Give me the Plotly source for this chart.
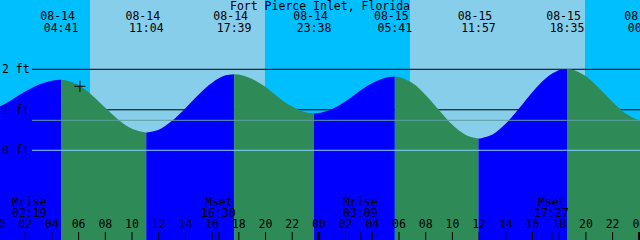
import plotly.graph_objects as go

station = "Fort Pierce Inlet, Florida"

# hours counted from 08-14 00:00 local time
extreme_times = [-2.0, 4.683, 11.067, 17.65, 23.633, 29.683, 35.95, 42.583, 48.43]
extreme_heights = [0.90, 1.74, 0.44, 1.88, 0.91, 1.82, 0.29, 2.01, 0.72]
label_dates = ["", "08-14", "08-14", "08-14", "08-14", "08-15", "08-15", "08-15", "08-16"]
label_clock = ["", "04:41", "11:04", "17:39", "23:38", "05:41", "11:57", "18:35", "00:26"]

sample_hours = list(range(0, 49))
sample_heights = [1.07, 1.25, 1.45, 1.62, 1.72,
                  1.73, 1.61, 1.36, 1.05, 0.75, 0.53, 0.44,
                  0.51, 0.73, 1.04, 1.38, 1.67, 1.85,
                  1.87, 1.76, 1.56, 1.30, 1.08, 0.94,
                  0.92, 1.02, 1.21, 1.45, 1.66, 1.79,
                  1.81, 1.66, 1.36, 0.99, 0.63, 0.38,
                  0.29, 0.39, 0.66, 1.04, 1.44, 1.78, 1.98,
                  1.99, 1.83, 1.53, 1.19, 0.90, 0.74]

sunrise_times = [6.85, 30.82]
sunset_times = [19.96, 43.93]

moon_times = [2.317, 16.5, 27.15, 41.45]
moon_names = ["Mrise", "Mset", "Mrise", "Mset"]
moon_clock = ["02:19", "16:30", "03:09", "17:27"]

hour_ticks = list(range(0, 49, 2))
hour_labels = ["%02d" % (h % 24) for h in hour_ticks]

now_time = [6.1]
now_height = [1.58]

foot_levels = [2, 1, 0]
foot_labels = ["2 ft", "1 ft", "0 ft"]
msl_level = 0.74

X_RANGE = [0.112, 48.05]
Y_RANGE = [-2.215, 3.711]
Y_BOTTOM = -3.0

NIGHT = "#00BFFF"
DAY = "#87CEEB"
RISE = "#0000FF"
FALL = "#2E8B57"
FONT = "DejaVu Sans Mono"
FS = 11.5

fig = go.Figure()

# tide fill segments
pts = sorted(list(zip(extreme_times, extreme_heights)) + list(zip(sample_hours, sample_heights)))
for i in range(len(extreme_times) - 1):
    ta, tb = extreme_times[i], extreme_times[i + 1]
    ha, hb = extreme_heights[i], extreme_heights[i + 1]
    xs, ys = [], []
    for t, h in pts:
        if ta <= t <= tb:
            if xs and abs(t - xs[-1]) < 1e-9:
                continue
            xs.append(t)
            ys.append(h)
    color = RISE if hb > ha else FALL
    fig.add_trace(go.Scatter(x=[ta, tb], y=[Y_BOTTOM, Y_BOTTOM], mode="lines",
                             line=dict(width=0), hoverinfo="skip", showlegend=False))
    fig.add_trace(go.Scatter(x=xs, y=ys, mode="lines",
                             line=dict(width=0, shape="spline", smoothing=1, color=color),
                             fill="tonexty", fillcolor=color, hoverinfo="skip", showlegend=False))

fig.add_trace(go.Scatter(x=now_time, y=now_height, mode="markers",
                         marker=dict(symbol="cross-thin", size=8, line=dict(width=1, color="black")),
                         hoverinfo="skip", showlegend=False))

tfont = dict(family=FONT, size=FS, color="black")
# high / low labels along the top (y2 is in pixels from the top)
vis = [i for i, d in enumerate(label_dates) if d]
fig.add_trace(go.Scatter(x=[extreme_times[i] for i in vis], y=[17.3] * len(vis), yaxis="y2",
                         mode="text", text=[label_dates[i] + "\u00a0" for i in vis],
                         textposition="middle center", textfont=tfont, hoverinfo="skip", showlegend=False))
fig.add_trace(go.Scatter(x=[extreme_times[i] for i in vis], y=[29.3] * len(vis), yaxis="y2",
                         mode="text", text=[label_clock[i] for i in vis],
                         textposition="middle center", textfont=tfont, hoverinfo="skip", showlegend=False))
# hour labels along the bottom
fig.add_trace(go.Scatter(x=hour_ticks, y=[225] * len(hour_ticks), yaxis="y2",
                         mode="text", text=hour_labels,
                         textposition="middle center", textfont=tfont, hoverinfo="skip", showlegend=False))

shapes = []
# day / night background
edges = [-5] + sorted(sunrise_times + sunset_times) + [60]
for i in range(len(edges) - 1):
    col = NIGHT if i % 2 == 0 else DAY
    shapes.append(dict(type="rect", xref="x", yref="paper", x0=edges[i], x1=edges[i + 1],
                       y0=0, y1=1, fillcolor=col, line=dict(width=0), layer="below"))
# black foot lines behind the tide
for lv in foot_levels[:2]:
    shapes.append(dict(type="line", xref="paper", yref="y", x0=0.05, x1=1, y0=lv, y1=lv,
                       line=dict(color="black", width=1), layer="below"))
# datum and mean lines over the tide
shapes.append(dict(type="line", xref="paper", yref="y", x0=0.05, x1=1, y0=0, y1=0,
                   line=dict(color="#87CEFA", width=1), layer="above"))
shapes.append(dict(type="line", xref="paper", yref="y", x0=0.05, x1=1, y0=msl_level, y1=msl_level,
                   line=dict(color="#5F9EA0", width=1), layer="above"))
# hour ticks
for h in hour_ticks:
    w = 2.5 if h % 24 == 0 else 1
    shapes.append(dict(type="line", xref="x", yref="paper", x0=h, x1=h, y0=0, y1=8 / 240,
                       line=dict(color="black", width=w), layer="above"))
for t in moon_times:
    shapes.append(dict(type="line", xref="x", yref="paper", x0=t, x1=t, y0=0, y1=8 / 240,
                       line=dict(color="black", width=1), layer="above"))

ann = []
font = dict(family=FONT, size=FS, color="black")
ann.append(dict(text=station, xref="paper", yref="paper", x=0.5, y=1 - 6 / 240,
                xanchor="center", yanchor="middle", showarrow=False, font=font, borderpad=0))
for lv, lb in zip(foot_levels, foot_labels):
    ann.append(dict(text=lb, xref="paper", yref="y", x=1 / 640, y=lv, xanchor="left",
                    yanchor="middle", showarrow=False, font=font, borderpad=0))
for t, n, c in zip(moon_times, moon_names, moon_clock):
    ann.append(dict(text=n, xref="x", yref="paper", x=t, y=1 - 201.7 / 240,
                    xanchor="center", yanchor="middle", showarrow=False, font=font, borderpad=0))
    ann.append(dict(text=c, xref="x", yref="paper", x=t, y=1 - 213.3 / 240,
                    xanchor="center", yanchor="middle", showarrow=False, font=font, borderpad=0))

fig.update_layout(
    width=640, height=240, autosize=False,
    margin=dict(l=0, r=0, t=0, b=0, pad=0),
    paper_bgcolor=NIGHT, plot_bgcolor=NIGHT,
    xaxis=dict(range=X_RANGE, visible=False, fixedrange=True),
    yaxis=dict(range=Y_RANGE, visible=False, fixedrange=True),
    yaxis2=dict(range=[240, 0], overlaying="y", visible=False, fixedrange=True),
    shapes=shapes, annotations=ann, showlegend=False,
)

fig.write_html("out.html", config={"displayModeBar": False})
